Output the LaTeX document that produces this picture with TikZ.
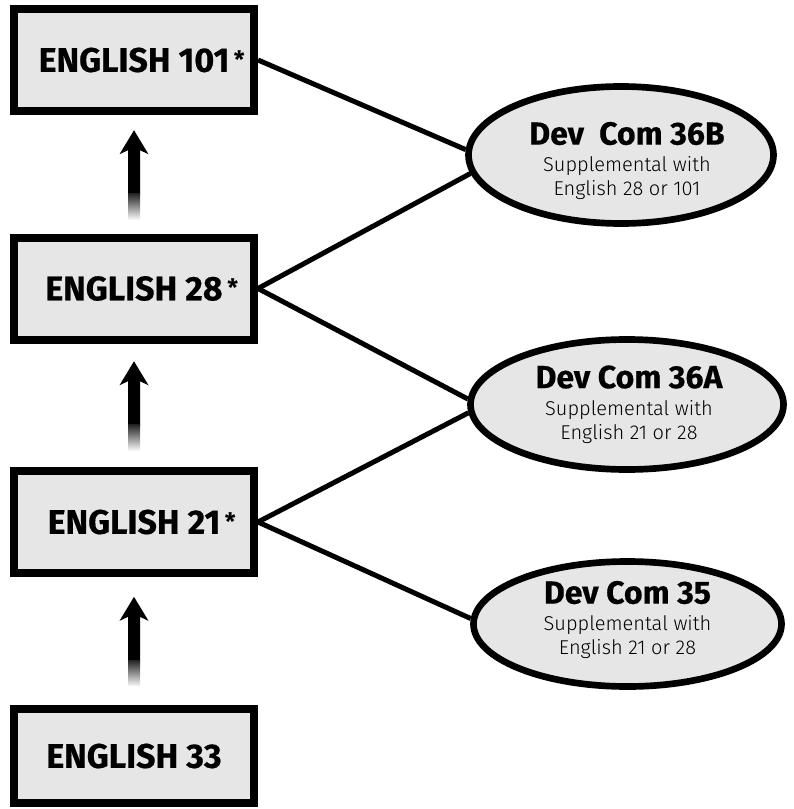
\documentclass[tikz,border=0pt]{standalone}
\usepackage{fontspec}
\setmainfont{Fira Sans}
\newfontfamily\lightfont{Fira Sans Light}
\newfontfamily\heavyfont{Fira Sans Bold}[FakeBold=0.5]
\newfontfamily\starfont{Fira Sans Bold}
\usetikzlibrary{shapes.geometric,calc,backgrounds}
\definecolor{boxgray}{HTML}{E6E6E6}
\newcommand\titlef{\heavyfont\fontsize{24}{26}\selectfont}
\newcommand\coursestar{\rlap{\kern3.5pt\raisebox{0.1em}{\starfont\fontsize{18}{18}\selectfont *}}}
\begin{document}
\begin{tikzpicture}[x=0.75pt,y=-0.75pt,
  course/.style={draw=black, line width=6pt, fill=boxgray, rectangle,
    minimum width=180pt, minimum height=76.5pt, inner sep=0pt,
    font=\heavyfont\fontsize{25.5}{28}\selectfont},
  devcom/.style={draw=black, line width=5pt, fill=boxgray, ellipse, inner sep=0pt},
  devtext/.style={align=center, inner sep=0pt, font=\lightfont\fontsize{15}{18}\selectfont},
  link/.style={line width=3.75pt},
  fadeshaft/.style={top color=black!85, bottom color=black!3}
]
\useasboundingbox (0,0) rectangle (793,809);

% course boxes
\node[course] (e101) at (134,60)    {ENGLISH 101\coursestar};
\node[course] (e28)  at (134,288.5) {ENGLISH 28\coursestar};
\node[course] (e21)  at (134,522)   {ENGLISH 21\coursestar};
\node[course, minimum height=71pt] (e33) at (134,756) {ENGLISH 33};

% dev com ellipses
\node[devcom, minimum width=228.75pt, minimum height=102.75pt] (d36b) at (621,155) {};
\node[devcom, minimum width=234.75pt, minimum height=97.5pt] (d36a) at (627,404.5) {};
\node[devcom, minimum width=231pt, minimum height=93.75pt] (d35) at (627.5,624) {};
\node[devtext] (t36b) at ($(d36b.center)+(6,6)$)
  {{\titlef Dev\ \ Com 36B}\\[2.5pt]Supplemental with\\English 28 or 101};
\node[devtext] (t36a) at ($(d36a.center)+(2,0)$)
  {{\titlef Dev Com 36A}\\[2.5pt]Supplemental with\\English 21 or 28};
\node[devtext] (t35) at ($(d35.center)+(0,-4)$)
  {{\titlef Dev Com 35}\\[2.5pt]Supplemental with\\English 21 or 28};

% connectors
\begin{scope}[on background layer]
  \draw[link] (e101.east) -- (d36b.178);
  \draw[link] (e28.east) -- (d36b.187);
  \draw[link] (e28.east) -- (d36a.178);
  \draw[link] (e21.east) -- (d36a.183);
  \draw[link] (e21.east) -- (d35.178);
\end{scope}

% upward arrows between boxes
\coordinate (a1) at ($(e101.south)!0.5!(e28.north)$);
\coordinate (a2) at ($(e28.south)!0.5!(e21.north)$);
\coordinate (a3) at ($(e21.south)!0.5!(e33.north)$);
\foreach \a in {a1,a2,a3}{
  \begin{scope}[shift={(\a)}]
    \fill[black] (0,-44) -- (14.5,-20) -- (6,-24) -- (6,20) -- (-6,20)
      -- (-6,-24) -- (-14.5,-20) -- cycle;
    \shade[fadeshaft] (-6,19.5) rectangle (6,45);
  \end{scope}
}
\end{tikzpicture}
\end{document}
